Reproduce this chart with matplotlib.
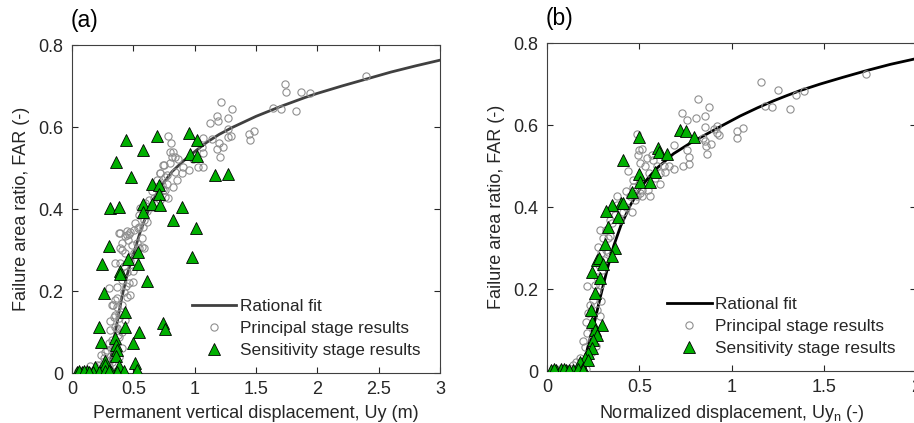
import numpy as np
import matplotlib
matplotlib.use("Agg")
import matplotlib.pyplot as plt
from matplotlib.ticker import FormatStrFormatter

plt.rcParams["font.family"] = ["Liberation Sans", "DejaVu Sans"]

# ---- panel (a): permanent vertical displacement ----
fit_a_x = [0.30, 0.312, 0.35, 0.407, 0.45, 0.50, 0.557, 0.60, 0.65, 0.717, 0.815, 0.90,
           1.0, 1.1, 1.2, 1.3, 1.4, 1.5, 1.6, 1.7, 1.8, 1.9, 2.0, 2.2, 2.4, 2.6, 2.8, 3.0]
fit_a_y = [0.0, 0.028, 0.095, 0.186, 0.24, 0.29, 0.345, 0.38, 0.415, 0.452, 0.491, 0.515,
           0.54, 0.563, 0.582, 0.598, 0.612, 0.626, 0.638, 0.65, 0.661, 0.672, 0.682, 0.70,
           0.717, 0.734, 0.749, 0.763]

prin_a_x = [2.40, 1.736, 1.745, 1.87, 1.94, 1.83, 1.70, 1.64, 1.484, 1.44, 1.45,
            1.212, 1.301, 1.185, 1.274, 1.125, 1.193, 1.274, 1.293, 1.274, 1.20, 1.233, 1.185,
            1.206, 1.138, 1.07, 1.057, 1.065, 1.07, 1.03, 0.989, 0.956, 0.894, 0.826, 0.839,
            0.866, 0.785, 0.744, 0.798, 0.717, 0.758, 0.839, 0.907, 0.853, 0.826, 0.771, 0.744,
            0.758, 0.785, 0.81, 0.796, 0.815, 0.747, 0.72, 0.774, 0.693, 0.734, 0.652, 0.761,
            0.666, 0.625, 0.72, 0.598, 0.652, 0.557, 0.611, 0.543, 0.584, 0.516, 0.543, 0.611,
            0.503, 0.394, 0.462, 0.435, 0.38, 0.448, 0.476, 0.408, 0.489, 0.571, 0.408, 0.503,
            0.353, 0.476, 0.448, 0.462, 0.367, 0.299, 0.421, 0.448, 0.353, 0.326, 0.408, 0.38,
            0.34, 0.435, 0.353, 0.408, 0.3125, 0.38, 0.299, 0.326, 0.272, 0.38, 0.258, 0.326,
            0.231, 0.299, 0.204, 0.272, 0.39, 0.43, 0.47, 0.42, 0.39, 0.50, 0.405, 0.50, 0.44,
            0.47, 0.364, 0.337, 0.37, 0.35, 0.386, 0.31, 0.364, 0.378, 0.323, 0.35, 0.405,
            0.283, 0.24, 0.31, 0.2, 0.147, 0.55, 0.59, 0.53, 0.46, 0.45, 0.57, 0.58, 0.54,
            0.05, 0.07, 0.09, 0.11, 0.14, 0.17, 0.20, 0.23, 0.26, 0.29, 0.32, 0.35, 0.38]
prin_a_y = [0.725, 0.705, 0.686, 0.685, 0.682, 0.639, 0.644, 0.647, 0.591, 0.583, 0.569,
            0.662, 0.643, 0.627, 0.621, 0.61, 0.615, 0.594, 0.578, 0.575, 0.56, 0.552, 0.546,
            0.528, 0.57, 0.572, 0.552, 0.537, 0.503, 0.503, 0.521, 0.495, 0.487, 0.54, 0.528,
            0.523, 0.578, 0.507, 0.511, 0.487, 0.479, 0.491, 0.503, 0.47, 0.454, 0.462, 0.446,
            0.43, 0.426, 0.56, 0.54, 0.528, 0.507, 0.489, 0.483, 0.471, 0.459, 0.443, 0.447,
            0.426, 0.422, 0.422, 0.414, 0.405, 0.402, 0.394, 0.385, 0.373, 0.365, 0.357, 0.369,
            0.349, 0.342, 0.34, 0.333, 0.341, 0.337, 0.345, 0.316, 0.312, 0.308, 0.30, 0.292,
            0.268, 0.272, 0.247, 0.219, 0.21, 0.207, 0.198, 0.186, 0.178, 0.166, 0.166, 0.145,
            0.137, 0.129, 0.113, 0.10, 0.105, 0.088, 0.072, 0.06, 0.052, 0.04, 0.036, 0.028,
            0.02, 0.016, 0.012, 0.008, 0.305, 0.292, 0.284, 0.26, 0.268, 0.248, 0.227, 0.223, 0.211,
            0.191, 0.183, 0.167, 0.162, 0.142, 0.134, 0.126, 0.11, 0.093, 0.081, 0.065, 0.061,
            0.057, 0.045, 0.032, 0.02, 0.016, 0.305, 0.305, 0.317, 0.325, 0.347, 0.329, 0.357, 0.353,
            0.004, 0.003, 0.005, 0.002, 0.004, 0.006, 0.003, 0.005, 0.007, 0.004, 0.006, 0.003, 0.005]

sens_a_x = [0.44, 0.69, 0.957, 1.016, 0.96, 1.02, 0.58, 0.36, 0.478, 1.166, 1.27, 0.65,
            0.71, 0.71, 0.58, 0.655, 0.58, 0.72, 0.31, 0.383, 0.90, 0.82, 1.01, 0.976, 0.304,
            0.454, 0.538, 0.538, 0.245, 0.394, 0.394, 0.614, 0.258, 0.435, 0.217, 0.435, 0.74,
            0.76, 0.55, 0.239, 0.348, 0.495, 0.361, 0.367, 0.359, 0.272, 0.516, 0.38, 0.27,
            0.185, 0.527, 0.42,
            0.04, 0.08, 0.12, 0.17, 0.22, 0.27, 0.32, 0.37, 0.06, 0.10, 0.14, 0.30]
sens_a_y = [0.569, 0.577, 0.585, 0.569, 0.535, 0.53, 0.543, 0.514, 0.479, 0.483, 0.485, 0.46,
            0.458, 0.436, 0.413, 0.413, 0.393, 0.41, 0.403, 0.405, 0.405, 0.374, 0.353, 0.282, 0.31,
            0.277, 0.296, 0.265, 0.267, 0.249, 0.241, 0.225, 0.194, 0.149, 0.113, 0.113, 0.121,
            0.107, 0.10, 0.076, 0.085, 0.072, 0.068, 0.056, 0.042, 0.03, 0.024, 0.016, 0.02,
            0.014, 0.007, 0.004,
            0.003, 0.002, 0.004, 0.003, 0.002, 0.004, 0.003, 0.002, 0.004, 0.005, 0.003, 0.004]

# ---- panel (b): normalized displacement ----
fit_b_x = [0.16, 0.181, 0.208, 0.226, 0.26, 0.289, 0.33, 0.361, 0.40, 0.452, 0.504, 0.55,
           0.596, 0.685, 0.78, 0.865, 0.95, 1.046, 1.14, 1.227, 1.30, 1.371, 1.48, 1.60,
           1.733, 1.86, 2.0]
fit_b_y = [0.0, 0.006, 0.035, 0.067, 0.125, 0.181, 0.255, 0.305, 0.355, 0.405, 0.445, 0.472,
           0.495, 0.53, 0.557, 0.578, 0.599, 0.622, 0.642, 0.659, 0.672, 0.684, 0.70, 0.716,
           0.733, 0.748, 0.762]

prin_b_x = [1.726, 1.161, 1.25, 1.39, 1.35, 1.178, 1.216, 1.315, 0.82, 0.875, 0.73, 0.757,
            0.808, 0.857, 0.857, 0.92, 0.92, 0.93, 0.906, 1.06, 1.03, 1.03, 0.844, 0.853,
            0.862, 0.888, 0.866, 0.76, 0.768, 0.768, 0.736, 0.687, 0.663, 0.634, 0.64, 0.688,
            0.614, 0.486, 0.513, 0.50, 0.495, 0.504, 0.54, 0.531, 0.567, 0.576, 0.594, 0.554,
            0.585, 0.612, 0.44, 0.467, 0.467, 0.513, 0.549, 0.558, 0.513, 0.476, 0.486, 0.504,
            0.43, 0.45, 0.427, 0.458, 0.413, 0.395, 0.377, 0.377, 0.359, 0.368, 0.34, 0.319,
            0.286, 0.277, 0.304, 0.332, 0.322, 0.295, 0.283, 0.30, 0.272, 0.286, 0.272, 0.219,
            0.25, 0.232, 0.268, 0.286, 0.223, 0.21, 0.241, 0.214, 0.241, 0.196, 0.205, 0.241,
            0.223, 0.178, 0.159, 0.141, 0.31, 0.34, 0.26, 0.29, 0.33, 0.35, 0.25, 0.265,
            0.03, 0.05, 0.07, 0.09, 0.11, 0.13, 0.15, 0.17, 0.19, 0.21]
prin_b_y = [0.725, 0.706, 0.686, 0.682, 0.674, 0.647, 0.644, 0.639, 0.663, 0.644, 0.629, 0.613,
            0.617, 0.622, 0.595, 0.598, 0.58, 0.576, 0.59, 0.592, 0.585, 0.568, 0.568, 0.56,
            0.548, 0.554, 0.529, 0.538, 0.522, 0.505, 0.501, 0.551, 0.501, 0.50, 0.486, 0.492,
            0.456, 0.579, 0.541, 0.539, 0.527, 0.507, 0.519, 0.499, 0.527, 0.515, 0.499, 0.483,
            0.47, 0.483, 0.489, 0.465, 0.45, 0.442, 0.442, 0.427, 0.426, 0.417, 0.426, 0.434,
            0.438, 0.426, 0.401, 0.389, 0.389, 0.369, 0.426, 0.405, 0.397, 0.381, 0.369, 0.344,
            0.344, 0.303, 0.324, 0.324, 0.295, 0.287, 0.259, 0.247, 0.23, 0.21, 0.194, 0.207,
            0.173, 0.161, 0.149, 0.133, 0.141, 0.12, 0.112, 0.092, 0.076, 0.072, 0.059, 0.047,
            0.039, 0.031, 0.023, 0.015, 0.27, 0.33, 0.21, 0.17, 0.29, 0.36, 0.10, 0.06,
            0.004, 0.003, 0.005, 0.002, 0.004, 0.006, 0.003, 0.005, 0.007, 0.004]

sens_b_x = [0.50, 0.41, 0.72, 0.75, 0.797, 0.603, 0.609, 0.652, 0.50, 0.585, 0.504, 0.558,
            0.458, 0.399, 0.413, 0.35, 0.317, 0.387, 0.33, 0.313, 0.368, 0.35, 0.268, 0.283,
            0.304, 0.246, 0.286, 0.259, 0.236, 0.297, 0.246, 0.259, 0.272, 0.25, 0.246, 0.223,
            0.205, 0.178, 0.196, 0.223,
            0.024, 0.05, 0.078, 0.105, 0.14, 0.168, 0.196, 0.04, 0.09, 0.12]
sens_b_y = [0.57, 0.515, 0.587, 0.585, 0.57, 0.545, 0.534, 0.53, 0.481, 0.485, 0.46, 0.46,
            0.436, 0.409, 0.409, 0.404, 0.391, 0.375, 0.352, 0.31, 0.30, 0.28, 0.271, 0.275,
            0.26, 0.241, 0.226, 0.191, 0.149, 0.112, 0.12, 0.10, 0.088, 0.076, 0.055, 0.043,
            0.031, 0.023, 0.007, 0.027,
            0.003, 0.002, 0.004, 0.003, 0.002, 0.004, 0.003, 0.005, 0.004, 0.003]

TEXT = "#262626"
GREEN = "#00b000"


def style_axes(ax, xmax, xlabel, panel):
    ax.set_xlim(0, xmax)
    ax.set_ylim(0, 0.8)
    ax.set_xticks(np.arange(0, xmax + 0.01, 0.5))
    ax.set_yticks(np.arange(0, 0.81, 0.2))
    ax.xaxis.set_major_formatter(FormatStrFormatter("%g"))
    ax.yaxis.set_major_formatter(FormatStrFormatter("%g"))
    ax.tick_params(direction="in", top=True, right=True, length=4, width=0.8,
                   labelsize=13, colors=TEXT, pad=6)
    for sp in ax.spines.values():
        sp.set_color("#404040")
        sp.set_linewidth(0.8)
    ax.set_xlabel(xlabel, fontsize=13, color=TEXT, labelpad=5)
    ax.set_ylabel("Failure area ratio, FAR (-)", fontsize=13, color=TEXT, labelpad=6)
    ax.text(-0.005, 1.075, panel, transform=ax.transAxes, fontsize=16.5, color="black",
            ha="left", va="center")


fig = plt.figure(figsize=(9.14, 4.23), dpi=100)
ax1 = fig.add_axes([0.0788, 0.1182, 0.4026, 0.7754])
ax2 = fig.add_axes([0.5985, 0.1229, 0.4040, 0.7754])

panels = [
    (ax1, fit_a_x, fit_a_y, prin_a_x, prin_a_y, sens_a_x, sens_a_y, "#404040", 3,
     "Permanent vertical displacement, Uy (m)", "(a)"),
    (ax2, fit_b_x, fit_b_y, prin_b_x, prin_b_y, sens_b_x, sens_b_y, "black", 2,
     r"Normalized displacement, Uy$_\mathregular{n}$ (-)", "(b)"),
]

for ax, fx, fy, px, py, sx, sy, lc, xmax, xlabel, panel in panels:
    ax.plot(fx, fy, color=lc, lw=2.0, label="Rational fit", zorder=2)
    ax.plot(px, py, ls="none", marker="o", ms=5.2, mfc="none", mec="#8f8f8f",
            mew=0.8, label="Principal stage results", zorder=3)
    ax.plot(sx, sy, ls="none", marker="^", ms=8, mfc=GREEN, mec="black",
            mew=0.6, label="Sensitivity stage results", zorder=4)
    style_axes(ax, xmax, xlabel, panel)
    leg = ax.legend(loc="lower left", bbox_to_anchor=(0.325, 0.045), frameon=False,
                    fontsize=12.4, handlelength=2.6, handletextpad=0.2, borderpad=0,
                    borderaxespad=0, labelspacing=0.42)
    for t in leg.get_texts():
        t.set_color(TEXT)

fig.savefig("out.png", dpi=100)
